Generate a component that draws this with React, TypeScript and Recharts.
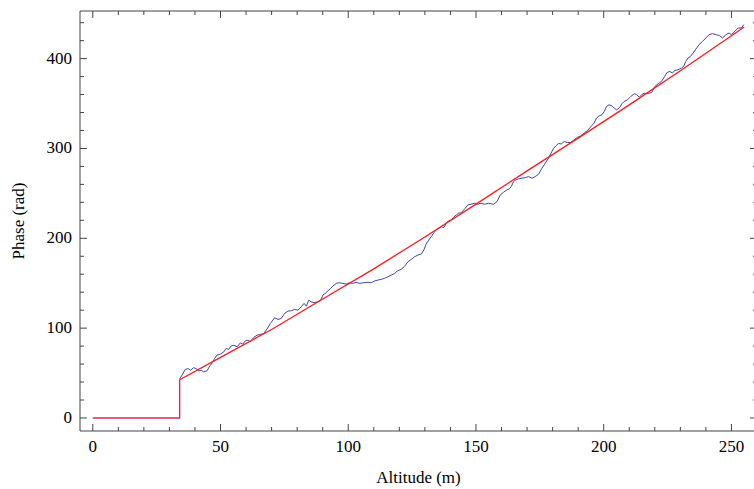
import { Line, LineChart, XAxis, YAxis } from 'recharts';

const CHART_WIDTH = 758;
const CHART_HEIGHT = 489;
const FONT = '"Liberation Serif", "Times New Roman", serif';
const FONT_SIZE = 17;
const FRAME_COLOR = '#444444';
const BLUE = '#4444a6';
const RED = '#ff1a1a';
const OVERLAP = '#c8325a';

// measured series (altitude m, phase rad)
const measuredAltitude = [
	33.9, 34.9, 36.2, 37.3, 38.2, 39.5, 40.4, 41.5, 42.5, 43.4, 44.7, 45.6, 46.7, 47.7, 48.6, 49.9,
	51.3, 52.2, 53.2, 54.2, 55.2, 56.5, 57.8, 58.7, 59.7, 60.8, 61.7, 63, 64.3, 65.6, 66.9, 68.2,
	69.5, 70.5, 71.2, 72.5, 73.8, 75.1, 76.4, 77.7, 79, 80.3, 81.6, 82.7, 83.6, 84.5, 85.5, 86.6,
	87.9, 89.2, 90.1, 91, 92.1, 93.1, 94, 95.3, 96.6, 97.9, 99.2, 100.5, 101.8, 103.1, 104.5, 105.8,
	107.7, 109, 110.3, 111.6, 112.9, 114.2, 115.5, 116.8, 118.2, 119.4, 120.7, 122.1, 123.4, 124.7,
	126, 127.3, 128.6, 129.6, 130.5, 131.5, 132.5, 133.5, 134.4, 135.4, 136.4, 137.4, 138.3, 139.3,
	140.3, 141.4, 142.3, 143.2, 144.2, 145.8, 146.8, 148.1, 149.5, 150.7, 152, 153.4, 154.9, 156.9,
	158.2, 159.5, 160.8, 162.1, 163, 163.8, 164.7, 165.6, 166.7, 168, 169.3, 170.6, 171.9, 173.2,
	174.5, 175.8, 177.1, 178.4, 179.4, 180.4, 181.3, 182.3, 183.4, 184.5, 185.8, 187.1, 188.4, 189.8,
	191, 192.3, 193.7, 195, 196.2, 197.2, 198.2, 199.3, 200.2, 201.1, 202.1, 203.2, 204.1, 205,
	206.1, 207.1, 208, 209.3, 210.6, 212, 212.9, 213.9, 214.9, 215.8, 216.8, 217.8, 218.8, 220,
	221.3, 222.6, 223.9, 224.8, 225.9, 226.9, 227.8, 229.1, 230.4, 231.3, 232.1, 233, 234, 235,
	236.1, 237.3, 238.7, 240, 241.2, 242.6, 244.1, 245.4, 246.5, 247.8, 249.1, 250, 251.3, 252.6,
	253.9, 254.8,
];
const measuredPhase = [
	42.8, 47.6, 54, 55, 53, 56, 55, 52.4, 53, 51.3, 52.4, 56.9, 61.3, 66.2, 70, 71,
	73.6, 77.4, 76.3, 80.3, 81, 79.2, 83.6, 82.2, 85.8, 86.6, 84.7, 89.6, 92.2, 93, 94, 99,
	105, 109, 111.5, 109.7, 110.8, 116.4, 119, 119.3, 120.8, 120, 123.7, 127.5, 124.5, 131, 129.3, 128.2,
	129.3, 131, 136.8, 138.7, 141.6, 144.3, 146.8, 149.8, 150.5, 149.8, 149, 150.5, 149.8, 151, 149.8, 150.5,
	151, 150.5, 152.4, 153.5, 154.3, 155.4, 157.2, 159, 161, 163.9, 165.4, 169, 174, 176.6,
	179.5, 181.4, 182.5, 187, 193.6, 198, 201.8, 206.2, 209.3, 211.1, 213, 211.8, 216.7, 219.6,
	220.4, 224, 226, 227.9, 228.5, 233.4, 237.1, 237.9, 239, 237.9, 239, 237.9, 239, 237.9,
	240.8, 248.3, 251.3, 253.8, 255, 257.5, 263.1, 265, 266.1, 266.9, 267.6, 268.7, 266.9, 268.7,
	271.3, 278, 283.6, 289.2, 294.8, 300.3, 303, 305.5, 305, 307.7, 306.6, 306.6, 309.6, 312.6,
	314, 317, 320, 324.4, 328.2, 333.8, 336.3, 337.5, 341.1, 346.7, 348.6, 347.5, 344.9, 343,
	344.9, 349.7, 352.3, 354.2, 357.9, 360.9, 359.8, 357.2, 359.8, 361.6, 360.9, 361.6, 362.3, 369,
	372, 374.6, 380.2, 384.6, 385.7, 383.9, 386.8, 387.6, 389.5, 391.3, 396.9, 400.7, 402.5, 406.2,
	410.7, 415.5, 419.2, 423, 426.6, 427.8, 426.6, 425.5, 423, 426.6, 428.5, 426.6, 430.3, 434.1,
	434.1, 437.8,
];

// fitted curve
const fitAltitude = [34, 50, 70, 90, 110, 130, 150, 170, 190, 210, 230, 255];
const fitPhase = [42.5, 67.5, 98.5, 132.5, 166, 201.5, 238, 275, 311.5, 348.5, 386.5, 435.2];

// zero section below the start altitude, shared by both series
const stepAltitude = [0, 34, 34];
const stepPhase = [0, 0, 42.5];

const X_DOMAIN: [number, number] = [-5, 260];
const Y_DOMAIN: [number, number] = [-14.5, 453];
const X_TICKS = Array.from({ length: 26 }, (_, i) => i * 10);
const Y_TICKS = Array.from({ length: 23 }, (_, i) => i * 20);

const toPoints = (xs: number[], ys: number[]) => xs.map((x, i) => ({ x, y: ys[i] }));

const measuredData = toPoints(measuredAltitude, measuredPhase);
const fitData = toPoints(fitAltitude, fitPhase);
const stepData = toPoints(stepAltitude, stepPhase);

type TickProps = { x: number; y: number; payload: { value: number } };

function frameTick(side: 'bottom' | 'top' | 'left' | 'right', major: number, labelled: boolean) {
	return ({ x, y, payload }: TickProps) => {
		const v = payload.value;
		const isMajor = v % major === 0;
		const len = isMajor ? 7 : 4;
		let line;
		if (side === 'bottom') line = <line x1={x} y1={y} x2={x} y2={y - len} />;
		else if (side === 'top') line = <line x1={x} y1={y} x2={x} y2={y + len} />;
		else if (side === 'left') line = <line x1={x} y1={y} x2={x + len} y2={y} />;
		else line = <line x1={x} y1={y} x2={x - len} y2={y} />;
		return (
			<g stroke={FRAME_COLOR} strokeWidth={1}>
				{line}
				{labelled && isMajor && side === 'bottom' && (
					<text x={x} y={y + 21} textAnchor="middle" stroke="none" fill="#000" fontFamily={FONT} fontSize={FONT_SIZE}>
						{v}
					</text>
				)}
				{labelled && isMajor && side === 'left' && (
					<text x={x - 8} y={y + 5} textAnchor="end" stroke="none" fill="#000" fontFamily={FONT} fontSize={FONT_SIZE}>
						{v}
					</text>
				)}
			</g>
		);
	};
}

export default function App() {
	return (
		<div style={{ position: 'absolute', left: 0, top: 0, width: 754, height: 489, overflow: 'hidden', background: '#fff' }}>
			<LineChart width={CHART_WIDTH} height={CHART_HEIGHT} margin={{ top: 10, right: 0, bottom: 0, left: 0 }}>
				<XAxis
					xAxisId="bottom"
					dataKey="x"
					type="number"
					domain={X_DOMAIN}
					allowDataOverflow
					ticks={X_TICKS}
					interval={0}
					height={58}
					tickSize={0}
					tickMargin={0}
					tickLine={false}
					axisLine={{ stroke: FRAME_COLOR }}
					tick={frameTick('bottom', 50, true)}
					label={{ value: 'Altitude (m)', position: 'insideBottom', offset: 6, fill: '#000', fontFamily: FONT, fontSize: FONT_SIZE }}
				/>
				<XAxis
					xAxisId="top"
					orientation="top"
					dataKey="x"
					type="number"
					domain={X_DOMAIN}
					allowDataOverflow
					ticks={X_TICKS}
					interval={0}
					height={1}
					tickSize={0}
					tickMargin={0}
					tickLine={false}
					axisLine={{ stroke: FRAME_COLOR }}
					tick={frameTick('top', 50, false)}
				/>
				<YAxis
					yAxisId="left"
					type="number"
					domain={Y_DOMAIN}
					allowDataOverflow
					ticks={Y_TICKS}
					interval={0}
					width={80}
					tickSize={0}
					tickMargin={0}
					tickLine={false}
					axisLine={{ stroke: FRAME_COLOR }}
					tick={frameTick('left', 100, true)}
					label={{
						value: 'Phase (rad)',
						angle: -90,
						position: 'insideLeft',
						offset: 18,
						fill: '#000',
						fontFamily: FONT,
						fontSize: FONT_SIZE,
						style: { textAnchor: 'middle' },
					}}
				/>
				<YAxis
					yAxisId="right"
					orientation="right"
					type="number"
					domain={Y_DOMAIN}
					allowDataOverflow
					ticks={Y_TICKS}
					interval={0}
					width={1}
					tickSize={0}
					tickMargin={0}
					tickLine={false}
					axisLine={{ stroke: FRAME_COLOR }}
					tick={frameTick('right', 100, false)}
				/>
				<Line
					xAxisId="bottom"
					yAxisId="left"
					data={measuredData}
					dataKey="y"
					type="linear"
					stroke={BLUE}
					strokeWidth={1}
					dot={false}
					isAnimationActive={false}
				/>
				<Line
					xAxisId="bottom"
					yAxisId="left"
					data={fitData}
					dataKey="y"
					type="linear"
					stroke={RED}
					strokeWidth={1.3}
					dot={false}
					isAnimationActive={false}
				/>
				<Line
					xAxisId="bottom"
					yAxisId="left"
					data={stepData}
					dataKey="y"
					type="linear"
					stroke={OVERLAP}
					strokeWidth={1.4}
					dot={false}
					isAnimationActive={false}
				/>
			</LineChart>
		</div>
	);
}
